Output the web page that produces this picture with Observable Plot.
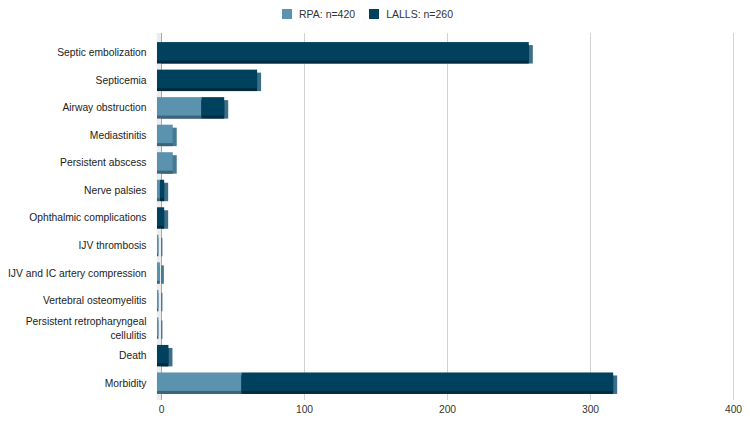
<!DOCTYPE html>
<html>
<head>
<meta charset="utf-8">
<script src="https://cdn.jsdelivr.net/npm/d3@7"></script>
<script src="https://cdn.jsdelivr.net/npm/@observablehq/plot@0.6"></script>
<style>
  body { margin: 0; background: #fff; font-family: "Liberation Sans", Arial, sans-serif; }
  #legend { height: 28px; display: flex; justify-content: center; align-items: center; padding-right: 15px; font-size: 10.5px; color: #333; }
  .item { display: flex; align-items: center; margin: 0 7px; }
  .sw { width: 10px; height: 10px; margin-right: 7px; }
  #chart svg { display: block; }
</style>
</head>
<body>
<div id="legend"></div>
<div id="chart"></div>
<script>
const categories = [
  "Septic embolization", "Septicemia", "Airway obstruction", "Mediastinitis",
  "Persistent abscess", "Nerve palsies", "Ophthalmic complications", "IJV thrombosis",
  "IJV and IC artery compression", "Vertebral osteomyelitis",
  "Persistent retropharyngeal cellulitis", "Death", "Morbidity"
];
const tickLabels = [
  "Septic embolization", "Septicemia", "Airway obstruction", "Mediastinitis",
  "Persistent abscess", "Nerve palsies", "Ophthalmic complications", "IJV thrombosis",
  "IJV and IC artery compression", "Vertebral osteomyelitis",
  "Persistent retropharyngeal\ncellulitis", "Death", "Morbidity"
];
const seriesNames = ["RPA: n=420", "LALLS: n=260"];
const rpaValues   = [0, 0, 31, 11, 11, 2, 0, 1, 2, 1, 1, 0, 59];
const lallsValues = [260, 70, 16, 0, 0, 3, 5, 0, 0, 0, 0, 8, 260];
const xTicks = [0, 100, 200, 300, 400];

const colors = {
  front: ["#5b92ae", "#00425e"],
  side:  ["#457a95", "#3b6e88"],
  bottom:["#3c6378", "#002b3e"]
};

// stacked segments (RPA first, then LALLS)
const rpaRows = categories.map((c, i) => ({category: c, x1: 0, x2: rpaValues[i]})).filter(d => d.x2 > d.x1);
const lallsRows = categories.map((c, i) => ({category: c, x1: rpaValues[i], x2: rpaValues[i] + lallsValues[i]})).filter(d => d.x2 > d.x1);
const segs = [rpaRows, lallsRows];

// legend
const legend = document.getElementById("legend");
seriesNames.forEach((s, k) => {
  const it = document.createElement("div");
  it.className = "item";
  it.innerHTML = `<span class="sw" style="background:${colors.front[k]}"></span><span>${s}</span>`;
  legend.appendChild(it);
});

const marks = [
  Plot.ruleX([0], {stroke: "#ececec", strokeWidth: 4.5, dx: -2.5}),
  Plot.ruleX(xTicks.slice(1), {stroke: "#d2d2d2"}),
  Plot.ruleX([0], {stroke: "#a8a8a8"})
];
segs.forEach((rows, k) => marks.push(Plot.barX(rows, {x1: "x1", x2: "x2", y: "category", fill: colors.side[k], dy: 3})));
segs.forEach((rows, k) => marks.push(Plot.barX(rows, {x1: "x1", x2: "x2", y: "category", fill: colors.bottom[k], dx: -4, dy: 3})));
segs.forEach((rows, k) => marks.push(Plot.barX(rows, {x1: "x1", x2: "x2", y: "category", fill: colors.front[k], dx: -4})));
marks.push(Plot.axisX({ticks: xTicks, tickSize: 0, tickPadding: 5, fill: "#333", label: null}));
marks.push(Plot.axisY({tickSize: 0, tickPadding: 15, fill: "#222", lineHeight: 1.35, label: null,
  tickFormat: d => tickLabels[categories.indexOf(d)]}));

const chart = Plot.plot({
  width: 750,
  height: 395,
  marginLeft: 161,
  marginRight: 17,
  marginTop: 5,
  marginBottom: 23,
  x: {domain: [0, 400]},
  y: {domain: categories, padding: 0.33, round: false},
  style: {fontFamily: "'Liberation Sans', Arial, sans-serif", fontSize: "10.3px", background: "#fff"},
  marks
});
document.getElementById("chart").appendChild(chart);
</script>
</body>
</html>
